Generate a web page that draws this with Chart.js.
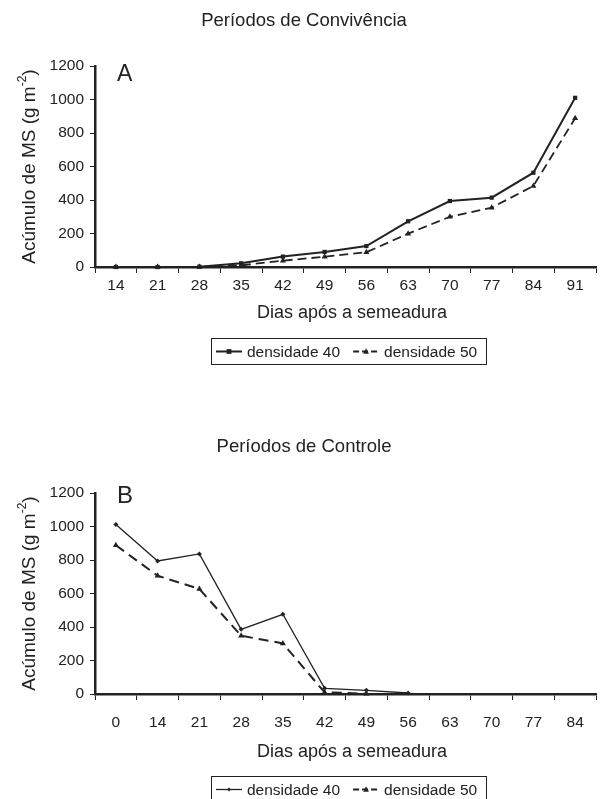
<!DOCTYPE html>
<html>
<head>
<meta charset="utf-8">
<script src="https://cdn.jsdelivr.net/npm/chart.js@4.4.1/dist/chart.umd.min.js"></script>
<style>
  body { margin: 0; width: 600px; height: 799px; overflow: hidden; background: #fff; }
  .panel { position: absolute; left: 0; width: 600px; height: 427px; }
</style>
</head>
<body>
<div class="panel" style="top:0"><canvas id="chartA" width="600" height="427"></canvas></div>
<div class="panel" style="top:427px"><canvas id="chartB" width="600" height="427"></canvas></div>
<script>
const daysA = ["14", "21", "28", "35", "42", "49", "56", "63", "70", "77", "84", "91"];
const convD40 = [0, 0, 2, 22, 62, 90, 125, 273, 394, 414, 563, 1010];
const convD50 = [0, 0, 0, 10, 38, 61, 88, 199, 300, 354, 484, 888];

const daysB = ["0", "14", "21", "28", "35", "42", "49", "56", "63", "70", "77", "84"];
const ctrlD40 = [1012, 794, 836, 386, 476, 34, 22, 6, null, null, null, null];
const ctrlD50 = [888, 706, 627, 348, 302, 10, 2, null, null, null, null, null];

const yTicks = [0, 200, 400, 600, 800, 1000, 1200];

const FONT = '"Liberation Sans", Arial, Helvetica, sans-serif';
const INK = "#222";

function drawMarker(ctx, style, r, x, y) {
  ctx.beginPath();
  if (style === "rect") {
    ctx.rect(x - r, y - r, r * 2, r * 2);
  } else if (style === "triangle") {
    ctx.moveTo(x, y - r * 1.2);
    ctx.lineTo(x + r, y + r * 0.8);
    ctx.lineTo(x - r, y + r * 0.8);
    ctx.closePath();
  } else {
    ctx.moveTo(x, y - r);
    ctx.lineTo(x + r, y);
    ctx.lineTo(x, y + r);
    ctx.lineTo(x - r, y);
    ctx.closePath();
  }
  ctx.fill();
}

const annot = {
  id: "annot",
  afterDraw(chart, args, o) {
    const { ctx, chartArea: a } = chart;
    ctx.save();
    ctx.fillStyle = INK;

    // titles
    ctx.font = "18.5px " + FONT;
    ctx.textAlign = "center";
    ctx.textBaseline = "middle";
    ctx.fillText(o.title, 304, o.titleY);
    ctx.font = "18px " + FONT;
    ctx.fillText("Dias após a semeadura", 352, o.xTitleY);

    // panel letter
    ctx.textAlign = "left";
    ctx.textBaseline = "alphabetic";
    ctx.font = o.letterSize + "px " + FONT;
    ctx.fillText(o.letter, 117, o.letterY);

    // y axis title with superscript
    ctx.save();
    ctx.translate(30, (a.top + a.bottom) / 2);
    ctx.rotate(-Math.PI / 2);
    const mainFont = "19px " + FONT, supFont = "12px " + FONT;
    const t1 = "Acúmulo de MS (g m", t2 = "-2", t3 = ")";
    ctx.font = mainFont;
    const w1 = ctx.measureText(t1).width, w3 = ctx.measureText(t3).width;
    ctx.font = supFont;
    const w2 = ctx.measureText(t2).width;
    let x = -(w1 + w2 + w3) / 2;
    ctx.textBaseline = "middle";
    ctx.font = mainFont;
    ctx.fillText(t1, x, 0);
    x += w1;
    ctx.font = supFont;
    ctx.fillText(t2, x, -7);
    x += w2;
    ctx.font = mainFont;
    ctx.fillText(t3, x, 0);
    ctx.restore();

    // legend box
    const lx = 211, ly = o.legendTop, lw = 275, lh = 26;
    ctx.strokeStyle = INK;
    ctx.lineWidth = 1;
    ctx.setLineDash([]);
    ctx.strokeRect(lx + 0.5, ly + 0.5, lw, lh);
    const my = ly + lh / 2 + 0.5;
    let sx = lx + 5;
    ctx.font = "15.5px " + FONT;
    ctx.textBaseline = "middle";
    chart.data.datasets.forEach((ds) => {
      ctx.strokeStyle = ds.borderColor;
      ctx.lineWidth = ds.borderWidth;
      ctx.setLineDash(ds.legendDash || []);
      ctx.beginPath();
      ctx.moveTo(sx, my);
      ctx.lineTo(sx + 26, my);
      ctx.stroke();
      ctx.setLineDash([]);
      ctx.fillStyle = ds.borderColor;
      drawMarker(ctx, ds.pointStyle, ds.pointRadius * 0.8, sx + 13, my);
      ctx.fillStyle = INK;
      ctx.fillText(ds.label, sx + 31, my + 1);
      sx += 31 + ctx.measureText(ds.label).width + 13;
    });
    ctx.restore();
  },
};

function makeChart(id, labels, d40, d50, opts) {
  return new Chart(document.getElementById(id), {
    type: "line",
    data: {
      labels: labels,
      datasets: [
        {
          label: "densidade 40",
          data: d40,
          borderColor: INK,
          backgroundColor: INK,
          borderWidth: opts.w40,
          pointStyle: opts.marker40,
          pointRadius: opts.r40,
          pointBorderWidth: 0,
          tension: 0,
          clip: false,
        },
        {
          label: "densidade 50",
          data: d50,
          borderColor: INK,
          backgroundColor: INK,
          borderWidth: opts.w50,
          borderDash: opts.dash50,
          legendDash: [6, 3],
          pointStyle: "triangle",
          pointRadius: 3.5,
          pointBorderWidth: 0,
          tension: 0,
          clip: false,
        },
      ],
    },
    options: {
      responsive: false,
      animation: false,
      layout: { padding: { left: 0, right: 0, top: 66, bottom: 160 - opts.xH } },
      plugins: {
        legend: { display: false },
        tooltip: { enabled: false },
        annot: opts.annot,
      },
      scales: {
        x: {
          offset: true,
          grid: {
            drawOnChartArea: false,
            drawTicks: true,
            tickLength: 6,
            color: INK,
            lineWidth: 1,
            offset: true,
          },
          border: { display: true, color: INK, width: 2.5 },
          ticks: {
            color: INK,
            font: { size: 15.5, family: FONT },
            padding: opts.xPad,
            maxRotation: 0,
            autoSkip: false,
          },
          afterFit: (s) => { s.height = opts.xH; },
        },
        y: {
          min: 0,
          max: 1200,
          afterBuildTicks: (s) => { s.ticks = yTicks.map((v) => ({ value: v })); },
          grid: {
            drawOnChartArea: false,
            drawTicks: true,
            tickLength: 5,
            color: INK,
            lineWidth: 1,
          },
          border: { display: true, color: INK, width: 2.5 },
          ticks: {
            color: INK,
            font: { size: 15.5, family: FONT },
            padding: 6,
            callback: (v) => String(v),
          },
          afterFit: (s) => { s.width = 95; },
        },
      },
    },
    plugins: [annot],
  });
}

makeChart("chartA", daysA, convD40, convD50, {
  w40: 2, r40: 3, marker40: "rect", w50: 1.8, dash50: [9, 5], xPad: 3, xH: 30,
  annot: { title: "Períodos de Convivência", titleY: 21, xTitleY: 313, letter: "A", letterSize: 23, letterY: 81, legendTop: 338 },
});

makeChart("chartB", daysB, ctrlD40, ctrlD50, {
  w40: 1.3, r40: 2.5, marker40: "rectRot", w50: 2, dash50: [10, 6], xPad: 13, xH: 42,
  annot: { title: "Períodos de Controle", titleY: 19.5, xTitleY: 325, letter: "B", letterSize: 24, letterY: 76, legendTop: 349 },
});
</script>
</body>
</html>
